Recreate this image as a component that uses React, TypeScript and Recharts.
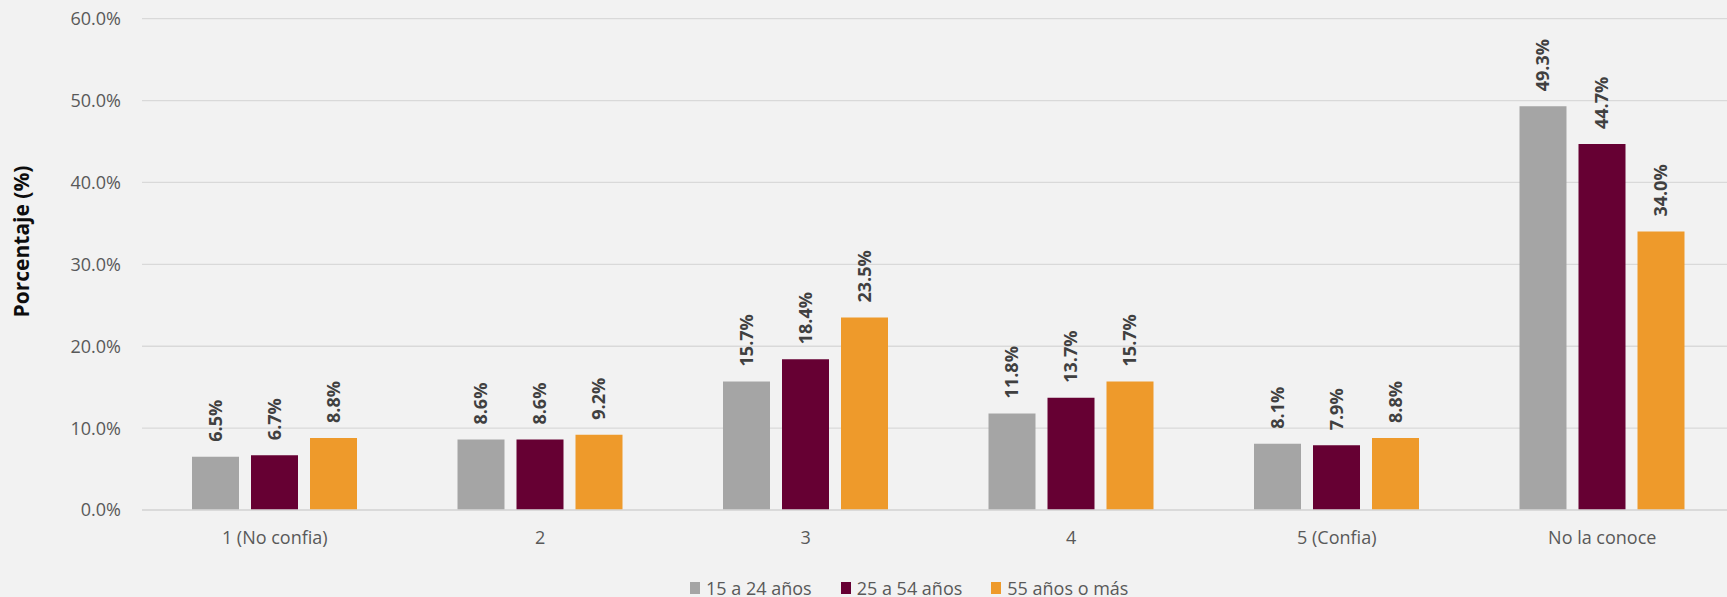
import React from "react"
import { Bar, BarChart, CartesianGrid, LabelList, Legend, XAxis, YAxis } from "recharts"

const categories = ["1 (No confia)", "2", "3", "4", "5 (Confia)", "No la conoce"]
const jovenes = [6.5, 8.6, 15.7, 11.8, 8.1, 49.3]
const adultos = [6.7, 8.6, 18.4, 13.7, 7.9, 44.7]
const mayores = [8.8, 9.2, 23.5, 15.7, 8.8, 34.0]
const yTicks = [0, 10, 20, 30, 40, 50, 60]

const series = [
    { key: "jovenes", name: "15 a 24 años", color: "#A5A5A5" },
    { key: "adultos", name: "25 a 54 años", color: "#660033" },
    { key: "mayores", name: "55 años o más", color: "#EE9A2B" },
]

const data = categories.map((cat, i) => ({
    cat,
    jovenes: jovenes[i],
    adultos: adultos[i],
    mayores: mayores[i],
}))

const font = "'Open Sans', sans-serif"

function ValueLabel(props: any) {
    const { x, y, width, value } = props
    const cx = x + width / 2 + 6.5
    const cy = y - 15
    return (
        <text x={cx} y={cy} transform={`rotate(-90 ${cx} ${cy})`} textAnchor="start" fontFamily={font} fontSize={18} fontWeight="bold" fill="#404040">
            {`${Number(value).toFixed(1)}%`}
        </text>
    )
}

function AxisTitle() {
    return (
        <text x={28.5} y={241.5} transform="rotate(-90 28.5 241.5)" textAnchor="middle" fontFamily={font} fontSize={21} fontWeight="bold" fill="#0D0D0D">
            Porcentaje (%)
        </text>
    )
}

function LegendContent() {
    return (
        <div style={{ display: "flex", alignItems: "center", height: 24, fontFamily: font, fontSize: 18, color: "#595959", whiteSpace: "nowrap" }}>
            {series.map((s, i) => (
                <div key={s.key} style={{ display: "flex", alignItems: "center", marginRight: i < series.length - 1 ? 29 : 0 }}>
                    <span style={{ display: "inline-block", width: 10, height: 12, background: s.color, marginRight: 6 }} />
                    <span>{s.name}</span>
                </div>
            ))}
        </div>
    )
}

export default function App() {
    return (
        <div style={{ position: "absolute", left: 0, top: 0, width: 1727, height: 597, overflow: "hidden", background: "#F2F2F2" }}>
            <BarChart width={1735} height={597} data={data} margin={{ top: 18.7, right: 0, bottom: 47, left: 0 }} barGap={12} barSize={47}>
                <CartesianGrid vertical={false} stroke="#D9D9D9" strokeWidth={1.3} />
                <XAxis
                    dataKey="cat"
                    height={40}
                    tickLine={false}
                    tickSize={0}
                    tickMargin={21}
                    axisLine={{ stroke: "#D9D9D9", strokeWidth: 1.3 }}
                    tick={{ fill: "#595959", fontSize: 18, fontFamily: font }}
                    interval={0}
                />
                <YAxis
                    width={142}
                    domain={[0, 60]}
                    ticks={yTicks}
                    tickFormatter={(v: number) => `${v.toFixed(1)}%`}
                    axisLine={false}
                    tickLine={false}
                    tickSize={0}
                    tickMargin={21}
                    tick={{ fill: "#595959", fontSize: 18, fontFamily: font }}
                    label={{ content: () => <AxisTitle /> }}
                />
                <Legend
                    layout="horizontal"
                    verticalAlign="middle"
                    align="center"
                    content={() => <LegendContent />}
                    wrapperStyle={{ position: "absolute", left: 690, top: 576, width: "auto", height: 24 }}
                />
                {series.map((s) => (
                    <Bar key={s.key} dataKey={s.key} name={s.name} fill={s.color} isAnimationActive={false}>
                        <LabelList dataKey={s.key} content={<ValueLabel />} />
                    </Bar>
                ))}
            </BarChart>
        </div>
    )
}
